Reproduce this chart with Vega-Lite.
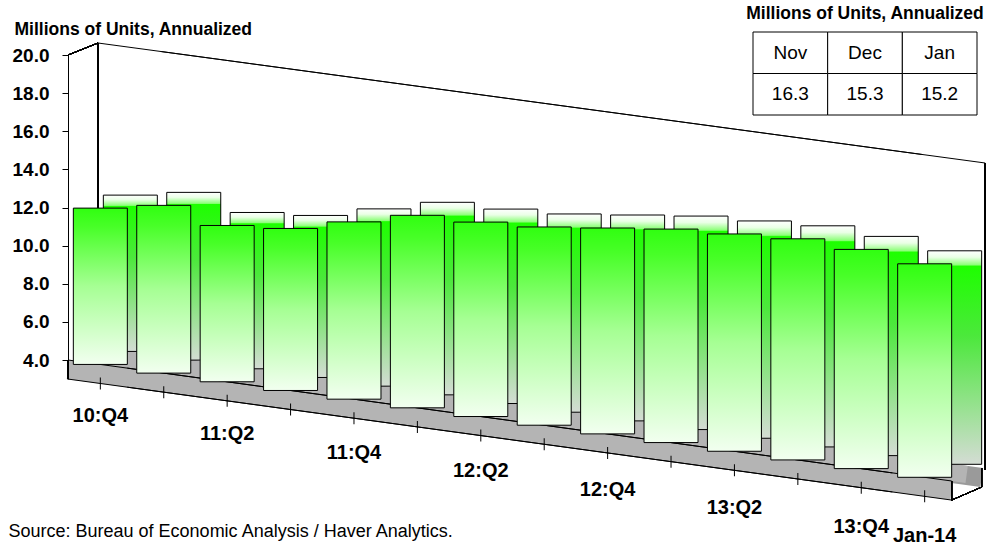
{
  "$schema": "https://vega.github.io/schema/vega-lite/v6.json",
  "width": 889,
  "height": 305,
  "autosize": {"type": "none"},
  "padding": {"left": 68, "top": 55, "right": 32, "bottom": 187},
  "config": {"view": {"stroke": null}, "font": "Liberation Sans", "text": {"font": "Liberation Sans"}, "axis": {"labelOverlap": false}},
  "datasets": {
    "sales": [
      {"period": "10:Q4", "units": 12.2},
      {"period": "11:Q1", "units": 12.8},
      {"period": "11:Q2", "units": 12.2},
      {"period": "11:Q3", "units": 12.5},
      {"period": "11:Q4", "units": 13.3},
      {"period": "12:Q1", "units": 14.1},
      {"period": "12:Q2", "units": 14.2},
      {"period": "12:Q3", "units": 14.4},
      {"period": "12:Q4", "units": 14.8},
      {"period": "13:Q1", "units": 15.2},
      {"period": "13:Q2", "units": 15.4},
      {"period": "13:Q3", "units": 15.6},
      {"period": "13:Q4", "units": 15.5},
      {"period": "Jan-14", "units": 15.2}
    ],
    "monthly": [
      {"month": "Nov", "units": 16.3},
      {"month": "Dec", "units": 15.3},
      {"month": "Jan", "units": 15.2}
    ]
  },
  "resolve": {"scale": {"x": "independent", "y": "independent"}},
  "layer": [
    {
      "data": {"name": "sales"},
      "resolve": {"scale": {"y": "independent", "yOffset": "independent", "size": "independent"}},
      "layer": [
        {
          "resolve": {"scale": {"yOffset": "independent"}},
          "layer": [
            {
              "mark": {"type": "line", "color": "black", "strokeWidth": 1, "xOffset": 24.7},
              "encoding": {
                "x": {"field": "period", "type": "nominal", "bandPosition": 0,
                  "scale": {"type": "band", "domain": ["10:Q4","11:Q1","11:Q2","11:Q3","11:Q4","12:Q1","12:Q2","12:Q3","12:Q4","13:Q1","13:Q2","13:Q3","13:Q4","Jan-14"], "paddingInner": 0.148, "paddingOuter": 0.084},
                  "axis": {"labels": false, "ticks": false, "domain": false, "grid": false, "title": "Source: Bureau of Economic Analysis / Haver Analytics.", "titleX": -60, "titleY": 176.5, "titleAlign": "left", "titleAnchor": "start", "titleBaseline": "alphabetic", "titleFontSize": 18, "titleFontWeight": "normal", "titleColor": "black", "titleFont": "Liberation Sans"}},
                "y": {"datum": 20, "type": "quantitative",
                  "scale": {"domain": [4, 20], "zero": false, "nice": false},
                  "axis": {"values": [4,6,8,10,12,14,16,18,20], "tickCount": 9, "format": ".1f", "labelOverlap": false, "labelFontSize": 19, "labelFontWeight": "bold", "labelColor": "black", "labelPadding": 13, "labelFont": "Liberation Sans", "tickSize": 6, "tickColor": "black", "domainColor": "black", "grid": false, "title": "Millions of Units, Annualized", "titleAngle": 0, "titleAlign": "left", "titleBaseline": "alphabetic", "titleX": -54, "titleY": -21, "titleFontSize": 17.5, "titleFontWeight": "bold", "titleColor": "black", "titleFont": "Liberation Sans"}},
                "yOffset": {"field": "period", "type": "nominal", "scale": {"type": "point", "domain": ["10:Q4","11:Q1","11:Q2","11:Q3","11:Q4","12:Q1","12:Q2","12:Q3","12:Q4","13:Q1","13:Q2","13:Q3","13:Q4","Jan-14"], "range": [-12, 99.5], "padding": 0}}
              }
            },
            {
              "mark": {"type": "line", "color": "black", "strokeWidth": 1, "xOffset": 33.5},
              "encoding": {
                "x": {"field": "period", "type": "nominal", "bandPosition": 1},
                "y": {"datum": 20, "type": "quantitative"},
                "yOffset": {"field": "period", "type": "nominal", "scale": {"type": "point", "domain": ["10:Q4","11:Q1","11:Q2","11:Q3","11:Q4","12:Q1","12:Q2","12:Q3","12:Q4","13:Q1","13:Q2","13:Q3","13:Q4","Jan-14"], "range": [-3.5, 108], "padding": 0}}
              }
            },
            {
              "mark": {"type": "rule", "color": "black", "strokeWidth": 1, "xOffset": 24.7, "yOffset": -12, "y2Offset": -9},
              "encoding": {
                "x": {"datum": "10:Q4", "type": "nominal", "bandPosition": 0},
                "y": {"datum": 20, "type": "quantitative"},
                "y2": {"datum": 4}
              }
            },
            {
              "mark": {"type": "rule", "color": "black", "strokeWidth": 1, "xOffset": 33.5, "yOffset": 108, "y2Offset": 110},
              "encoding": {
                "x": {"datum": "Jan-14", "type": "nominal", "bandPosition": 1},
                "y": {"datum": 20, "type": "quantitative"},
                "y2": {"datum": 4}
              }
            },
            {
              "mark": {"type": "rule", "color": "black", "strokeWidth": 1, "xOffset": -5.3, "x2Offset": 24.7, "y2Offset": -12},
              "encoding": {
                "x": {"datum": "10:Q4", "type": "nominal", "bandPosition": 0},
                "x2": {"datum": "10:Q4", "bandPosition": 0},
                "y": {"datum": 20, "type": "quantitative"},
                "y2": {"datum": 20}
              }
            },
            {
              "mark": {"type": "line", "color": "#9a9a9a", "strokeWidth": 19, "xOffset": 30},
              "encoding": {
                "x": {"field": "period", "type": "nominal", "bandPosition": 1},
                "y": {"datum": 3.5, "type": "quantitative"},
                "yOffset": {"field": "period", "type": "nominal", "scale": {"type": "point", "domain": ["10:Q4","11:Q1","11:Q2","11:Q3","11:Q4","12:Q1","12:Q2","12:Q3","12:Q4","13:Q1","13:Q2","13:Q3","13:Q4","Jan-14"], "range": [-4.88, 108], "padding": 0}}
              }
            },
            {
              "mark": {"type": "line", "color": "#b4b4b4", "strokeWidth": 17, "xOffset": 9.7},
              "encoding": {
                "x": {"field": "period", "type": "nominal", "bandPosition": 0},
                "y": {"datum": 4, "type": "quantitative"},
                "yOffset": {"field": "period", "type": "nominal", "scale": {"type": "point", "domain": ["10:Q4","11:Q1","11:Q2","11:Q3","11:Q4","12:Q1","12:Q2","12:Q3","12:Q4","13:Q1","13:Q2","13:Q3","13:Q4","Jan-14"], "range": [-6.5, 106.4], "padding": 0}}
              }
            },
            {
              "mark": {"type": "line", "color": "#b4b4b4", "strokeWidth": 17, "xOffset": 15},
              "encoding": {
                "x": {"field": "period", "type": "nominal", "bandPosition": 1},
                "y": {"datum": 4, "type": "quantitative"},
                "yOffset": {"field": "period", "type": "nominal", "scale": {"type": "point", "domain": ["10:Q4","11:Q1","11:Q2","11:Q3","11:Q4","12:Q1","12:Q2","12:Q3","12:Q4","13:Q1","13:Q2","13:Q3","13:Q4","Jan-14"], "range": [1.63, 114.5], "padding": 0}}
              }
            },
            {
              "mark": {"type": "line", "color": "#b4b4b4", "strokeWidth": 19, "xOffset": -5.3},
              "encoding": {
                "x": {"field": "period", "type": "nominal", "bandPosition": 0},
                "y": {"datum": 3.5, "type": "quantitative"},
                "yOffset": {"field": "period", "type": "nominal", "scale": {"type": "point", "domain": ["10:Q4","11:Q1","11:Q2","11:Q3","11:Q4","12:Q1","12:Q2","12:Q3","12:Q4","13:Q1","13:Q2","13:Q3","13:Q4","Jan-14"], "range": [0, 112.9], "padding": 0}}
              }
            },
            {
              "mark": {"type": "line", "color": "#b4b4b4", "strokeWidth": 19},
              "encoding": {
                "x": {"field": "period", "type": "nominal", "bandPosition": 1},
                "y": {"datum": 3.5, "type": "quantitative"},
                "yOffset": {"field": "period", "type": "nominal", "scale": {"type": "point", "domain": ["10:Q4","11:Q1","11:Q2","11:Q3","11:Q4","12:Q1","12:Q2","12:Q3","12:Q4","13:Q1","13:Q2","13:Q3","13:Q4","Jan-14"], "range": [8.12, 121], "padding": 0}}
              }
            },
            {
              "mark": {"type": "line", "color": "black", "strokeWidth": 1, "xOffset": -5.3},
              "encoding": {
                "x": {"field": "period", "type": "nominal", "bandPosition": 0},
                "y": {"datum": 4, "type": "quantitative"},
                "yOffset": {"field": "period", "type": "nominal", "scale": {"type": "point", "domain": ["10:Q4","11:Q1","11:Q2","11:Q3","11:Q4","12:Q1","12:Q2","12:Q3","12:Q4","13:Q1","13:Q2","13:Q3","13:Q4","Jan-14"], "range": [0, 112.9], "padding": 0}}
              }
            },
            {
              "mark": {"type": "line", "color": "black", "strokeWidth": 1},
              "encoding": {
                "x": {"field": "period", "type": "nominal", "bandPosition": 1},
                "y": {"datum": 4, "type": "quantitative"},
                "yOffset": {"field": "period", "type": "nominal", "scale": {"type": "point", "domain": ["10:Q4","11:Q1","11:Q2","11:Q3","11:Q4","12:Q1","12:Q2","12:Q3","12:Q4","13:Q1","13:Q2","13:Q3","13:Q4","Jan-14"], "range": [8.12, 121], "padding": 0}}
              }
            },
            {
              "mark": {"type": "line", "color": "black", "strokeWidth": 1, "xOffset": -5.3},
              "encoding": {
                "x": {"field": "period", "type": "nominal", "bandPosition": 0},
                "y": {"datum": 3, "type": "quantitative"},
                "yOffset": {"field": "period", "type": "nominal", "scale": {"type": "point", "domain": ["10:Q4","11:Q1","11:Q2","11:Q3","11:Q4","12:Q1","12:Q2","12:Q3","12:Q4","13:Q1","13:Q2","13:Q3","13:Q4","Jan-14"], "range": [0, 112.9], "padding": 0}}
              }
            },
            {
              "mark": {"type": "line", "color": "black", "strokeWidth": 1},
              "encoding": {
                "x": {"field": "period", "type": "nominal", "bandPosition": 1},
                "y": {"datum": 3, "type": "quantitative"},
                "yOffset": {"field": "period", "type": "nominal", "scale": {"type": "point", "domain": ["10:Q4","11:Q1","11:Q2","11:Q3","11:Q4","12:Q1","12:Q2","12:Q3","12:Q4","13:Q1","13:Q2","13:Q3","13:Q4","Jan-14"], "range": [8.12, 121], "padding": 0}}
              }
            },
            {
              "mark": {"type": "rule", "color": "black", "strokeWidth": 1, "xOffset": -5.3},
              "encoding": {
                "x": {"datum": "10:Q4", "type": "nominal", "bandPosition": 0},
                "y": {"datum": 4, "type": "quantitative"},
                "y2": {"datum": 3}
              }
            },
            {
              "mark": {"type": "rule", "color": "black", "strokeWidth": 1, "yOffset": 121, "y2Offset": 121},
              "encoding": {
                "x": {"datum": "Jan-14", "type": "nominal", "bandPosition": 1},
                "y": {"datum": 4, "type": "quantitative"},
                "y2": {"datum": 3}
              }
            },
            {
              "mark": {"type": "rule", "color": "black", "strokeWidth": 1, "xOffset": 30, "yOffset": 108, "y2Offset": 108},
              "encoding": {
                "x": {"datum": "Jan-14", "type": "nominal", "bandPosition": 1},
                "y": {"datum": 4, "type": "quantitative"},
                "y2": {"datum": 3}
              }
            },
            {
              "mark": {"type": "rule", "color": "black", "strokeWidth": 1, "x2Offset": 30, "yOffset": 121, "y2Offset": 108},
              "encoding": {
                "x": {"datum": "Jan-14", "type": "nominal", "bandPosition": 1},
                "x2": {"datum": "Jan-14", "bandPosition": 1},
                "y": {"datum": 3, "type": "quantitative"},
                "y2": {"datum": 3}
              }
            },
            {
              "mark": {"type": "tick", "color": "black", "orient": "vertical", "size": 12, "thickness": 1, "opacity": 1},
              "encoding": {
                "x": {"field": "period", "type": "nominal"},
                "y": {"datum": 3, "type": "quantitative"},
                "yOffset": {"field": "period", "type": "nominal", "scale": {"type": "point", "domain": ["10:Q4","11:Q1","11:Q2","11:Q3","11:Q4","12:Q1","12:Q2","12:Q3","12:Q4","13:Q1","13:Q2","13:Q3","13:Q4","Jan-14"], "range": [4.43, 117.3], "padding": 0}}
              }
            },
            {
              "transform": [{"filter": {"field": "period", "oneOf": ["10:Q4","11:Q2","11:Q4","12:Q2","12:Q4","13:Q2","13:Q4","Jan-14"]}}],
              "mark": {"type": "text", "fontSize": 20, "fontWeight": "bold", "color": "black", "baseline": "middle", "align": "center", "dy": 56},
              "encoding": {
                "x": {"field": "period", "type": "nominal"},
                "y": {"datum": 4, "type": "quantitative"},
                "text": {"field": "period"},
                "yOffset": {"field": "period", "type": "nominal", "scale": {"type": "point", "domain": ["10:Q4","11:Q1","11:Q2","11:Q3","11:Q4","12:Q1","12:Q2","12:Q3","12:Q4","13:Q1","13:Q2","13:Q3","13:Q4","Jan-14"], "range": [0, 120], "padding": 0}}
              }
            }
          ]
        },
        {
          "resolve": {"scale": {"y": "independent", "yOffset": "independent", "size": "independent"}},
          "layer": [
            {
              "mark": {"type": "tick", "orient": "vertical", "thickness": 54, "xOffset": 30, "opacity": 1, "stroke": "black", "strokeWidth": 1,
                "fill": {"gradient": "linear", "x1": 0, "y1": 0, "x2": 0, "y2": 1, "stops": [
                  {"offset": 0, "color": "#ffffff"},
                  {"offset": 0.03, "color": "#eaffe6"},
                  {"offset": 0.066, "color": "#8cff78"},
                  {"offset": 0.072, "color": "#1eff00"},
                  {"offset": 0.4, "color": "#4ce83c"},
                  {"offset": 1, "color": "#d4dcd4"}
                ]}},
              "encoding": {
                "x": {"field": "period", "type": "nominal",
                  "scale": {"type": "band", "domain": ["10:Q4","11:Q1","11:Q2","11:Q3","11:Q4","12:Q1","12:Q2","12:Q3","12:Q4","13:Q1","13:Q2","13:Q3","13:Q4","Jan-14"], "paddingInner": 0.148, "paddingOuter": 0.084}},
                "y": {"field": "period", "type": "nominal", "scale": {"type": "point", "domain": ["10:Q4","11:Q1","11:Q2","11:Q3","11:Q4","12:Q1","12:Q2","12:Q3","12:Q4","13:Q1","13:Q2","13:Q3","13:Q4","Jan-14"], "range": [296.43, 409.3], "padding": 0}, "axis": null},
                "yOffset": {"field": "units", "type": "quantitative", "scale": {"type": "linear", "domain": [4, 36], "range": [0, -305], "zero": false, "nice": false}},
                "size": {"field": "units", "type": "quantitative", "scale": {"type": "linear", "domain": [4, 20], "range": [0, 305], "zero": false, "nice": false}, "legend": null}
              }
            },
            {
              "mark": {"type": "tick", "orient": "vertical", "thickness": 54, "opacity": 1, "stroke": "black", "strokeWidth": 1,
                "fill": {"gradient": "linear", "x1": 0, "y1": 0, "x2": 0, "y2": 1, "stops": [
                  {"offset": 0, "color": "#30ff10"},
                  {"offset": 0.12, "color": "#48ff28"},
                  {"offset": 0.5, "color": "#a6ff94"},
                  {"offset": 1, "color": "#f2fff0"}
                ]}},
              "encoding": {
                "x": {"field": "period", "type": "nominal"},
                "y": {"field": "period", "type": "nominal", "scale": {"type": "point", "domain": ["10:Q4","11:Q1","11:Q2","11:Q3","11:Q4","12:Q1","12:Q2","12:Q3","12:Q4","13:Q1","13:Q2","13:Q3","13:Q4","Jan-14"], "range": [309.43, 422.3], "padding": 0}, "axis": null},
                "yOffset": {"field": "units", "type": "quantitative", "scale": {"type": "linear", "domain": [4, 36], "range": [0, -305], "zero": false, "nice": false}},
                "size": {"field": "units", "type": "quantitative", "scale": {"type": "linear", "domain": [4, 20], "range": [0, 305], "zero": false, "nice": false}, "legend": null}
              }
            }
          ]
        }
      ]
    },
    {
      "data": {"name": "monthly"},
      "layer": [
        {
          "mark": {"type": "rect", "fill": "white", "stroke": "black", "strokeWidth": 1},
          "encoding": {
            "x": {"field": "month", "type": "nominal", "scale": {"type": "band", "domain": ["Nov", "Dec", "Jan"], "range": [685, 909], "paddingInner": 0, "paddingOuter": 0}, "axis": null},
            "y": {"datum": "Month", "type": "nominal", "scale": {"type": "band", "domain": ["Caption", "Month", "Value"], "range": [-64.5, 60], "paddingInner": 0, "paddingOuter": 0}, "axis": null}
          }
        },
        {
          "mark": {"type": "rect", "fill": "white", "stroke": "black", "strokeWidth": 1},
          "encoding": {
            "x": {"field": "month", "type": "nominal"},
            "y": {"datum": "Value", "type": "nominal"}
          }
        },
        {
          "mark": {"type": "text", "fontSize": 19, "color": "black", "baseline": "middle", "align": "center"},
          "encoding": {
            "x": {"field": "month", "type": "nominal"},
            "y": {"datum": "Month", "type": "nominal"},
            "text": {"field": "month"}
          }
        },
        {
          "mark": {"type": "text", "fontSize": 19, "color": "black", "baseline": "middle", "align": "center"},
          "encoding": {
            "x": {"field": "month", "type": "nominal"},
            "y": {"datum": "Value", "type": "nominal"},
            "text": {"field": "units", "type": "quantitative", "format": ".1f"}
          }
        },
        {
          "transform": [{"filter": {"field": "month", "equal": "Dec"}}],
          "mark": {"type": "text", "fontSize": 17.5, "fontWeight": "bold", "color": "black", "baseline": "middle", "align": "center", "dy": 3},
          "encoding": {
            "x": {"field": "month", "type": "nominal"},
            "y": {"datum": "Caption", "type": "nominal"},
            "text": {"value": "Millions of Units, Annualized"}
          }
        }
      ]
    }
  ]
}
